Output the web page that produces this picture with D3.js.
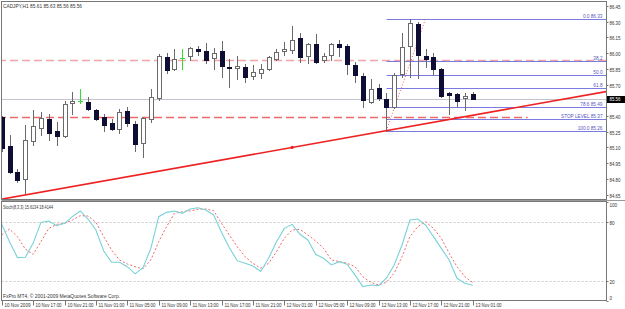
<!DOCTYPE html>
<html><head><meta charset="utf-8">
<script src="https://cdn.jsdelivr.net/npm/d3@7"></script>
<style>
html,body{margin:0;padding:0;background:#fff;overflow:hidden}
svg{display:block}
text{font-family:"Liberation Sans",Arial,sans-serif;}
</style>
</head><body><div id="chart"></div>
<script>
// ---------- DATA ----------
const symbolTitle = "CADJPY,H1 85.61 85.63 85.56 85.56";
const open  = [85.39,85.11,84.87,84.80,85.16,85.29,85.37,85.26,85.21,85.52,85.54,85.53,85.46,85.39,85.33,85.28,85.45,85.32,85.14,85.37,85.57,85.96,85.85,85.95,85.97,86.04,86.02,85.95,86.02,85.87,85.86,85.87,85.78,85.81,85.85,85.94,86.02,86.03,86.14,85.97,86.09,85.93,85.98,86.09,86.07,85.89,85.78,85.53,85.67,85.56,85.49,85.80,86.07,86.28,85.97,85.96,85.85,85.62,85.61,85.57,85.61];
const high  = [85.40,85.22,84.89,85.31,85.46,85.44,85.42,85.34,85.54,85.63,85.66,85.58,85.47,85.42,85.37,85.47,85.49,85.35,85.39,85.66,85.99,86.00,86.04,86.04,86.06,86.07,86.10,86.05,86.12,85.94,85.97,85.90,85.89,85.90,85.97,86.04,86.11,86.26,86.19,86.10,86.18,86.00,86.10,86.13,86.09,85.92,85.81,85.75,85.71,85.62,85.81,86.19,86.33,86.30,86.04,86.00,85.86,85.63,85.62,85.62,85.63];
const low   = [85.07,84.86,84.77,84.66,85.12,85.22,85.17,85.12,85.20,85.42,85.52,85.46,85.36,85.26,85.27,85.24,85.30,85.07,85.01,85.34,85.55,85.81,85.84,85.85,85.93,85.98,85.91,85.85,85.77,85.68,85.75,85.72,85.75,85.76,85.84,85.93,85.98,86.00,85.92,85.91,85.91,85.92,85.93,85.97,85.80,85.72,85.49,85.52,85.55,85.26,85.48,85.77,85.77,85.76,85.87,85.79,85.58,85.42,85.50,85.46,85.56];
const close = [85.09,84.87,84.79,85.17,85.30,85.38,85.24,85.21,85.51,85.54,85.54,85.47,85.37,85.31,85.28,85.44,85.33,85.13,85.38,85.58,85.97,85.84,85.94,85.95,86.05,86.02,85.93,86.00,85.88,85.86,85.88,85.77,85.82,85.85,85.96,86.01,86.04,86.13,85.96,86.09,85.92,85.97,86.09,86.06,85.90,85.79,85.55,85.66,85.57,85.49,85.79,86.06,86.29,85.98,85.94,85.85,85.59,85.60,85.54,85.59,85.56];
const stochMain   = [77.6,60.0,43.8,44.1,58.3,79.6,81.0,76.2,78.6,85.4,91.2,83.0,71.9,50.5,39.0,39.0,34.6,27.3,33.6,53.2,85.4,89.8,91.2,88.8,93.2,94.5,92.2,87.1,69.6,53.9,40.7,38.0,35.3,29.7,43.1,60.0,73.5,77.6,67.5,61.7,47.1,43.1,36.3,39.7,37.0,26.3,14.3,16.0,15.3,22.8,36.3,56.6,82.0,83.0,76.9,65.1,53.2,41.4,22.8,17.7,15.6134];
const stochSignal = [66.8,72.9,65.1,52.6,47.1,60.0,73.5,77.6,78.6,82.0,86.4,86.1,79.6,65.1,51.5,41.4,37.3,34.6,32.3,41.4,60.0,75.2,88.8,90.5,91.2,92.9,93.2,91.5,78.6,66.8,54.9,44.8,38.0,33.0,38.0,49.9,63.4,71.9,72.5,66.8,60.7,53.2,41.4,39.7,38.0,34.6,24.4,18.7,16.0,18.7,28.0,44.8,65.1,75.2,80.3,73.5,63.4,48.2,34.6,24.4,18.4144];
const stochTitle = "Stoch(8,3,3) 15.6134 18.4144";
const copyright = "FxPro MT4, \u00A9 2001-2009 MetaQuotes Software Corp.";
const priceTicks = [86.45,86.30,86.15,86.00,85.85,85.70,85.55,85.40,85.25,85.10,84.95,84.80,84.65];
const stochTicks = [100,80,20,0];
const timeTickBars = [0,4,8,12,16,20,24,28,32,36,40,44,48,52,56,60];
const timeTickLabels = ["10 Nov 2009","10 Nov 17:00","10 Nov 21:00","11 Nov 01:00","11 Nov 05:00","11 Nov 09:00","11 Nov 13:00","11 Nov 17:00","11 Nov 21:00","12 Nov 01:00","12 Nov 05:00","12 Nov 09:00","12 Nov 13:00","12 Nov 17:00","12 Nov 21:00","13 Nov 01:00"];
const bidPrice = 85.56;
const dashedLevels = [ {price:85.93, from:-2, to:80}, {price:85.39, from:-2, to:67} ];
const trendPoints = [ {bar:37, price:85.10}, {bar:49, price:85.26} ];
const fibStart = {bar:49, price:85.26};
const fibEnd   = {bar:54, price:86.33};
const fibLevels = [0, 38.2, 50, 61.8, 78.6, 100];
const fibLabels = ["0.0 86.33","38.2","50.0","61.8","78.6 85.49","100.0 85.26"];
const stopLevel = {price:85.37, label:"STOP LEVEL 85.37"};

// ---------- LAYOUT ----------
const W = 625, H = 309;
const L = 1.5, R = 606.5, mainTop = 1.5, mainBot = 199.5, stTop = 201.5, stBot = 300.5;
const fs = 5.6;
const txtCol = "#333";

const svg = d3.select("#chart").append("svg").attr("width", W).attr("height", H);

const x = d3.scaleLinear().domain([0, 60]).range([1.7, 472.7]);
const y = d3.scaleLinear().domain([84.65, 86.45]).range([194.6, 6]);
const ys = d3.scaleLinear().domain([0, 100]).range([300.7, 202.3]);
const px = v => Math.round(v) + 0.5;

const defs = svg.append("defs");
defs.append("clipPath").attr("id","cm").append("rect").attr("x",L+0.5).attr("y",mainTop+0.5).attr("width",R-L-1).attr("height",mainBot-mainTop-1);
defs.append("clipPath").attr("id","cs").append("rect").attr("x",L+0.5).attr("y",stTop+0.5).attr("width",R-L-1).attr("height",stBot-stTop-1);

const gm = svg.append("g").attr("clip-path","url(#cm)");
const barIdx = d3.range(open.length);
const lastBar = x.invert(R);

// bid line
gm.append("line").attr("x1",L).attr("x2",R).attr("y1",px(y(bidPrice))).attr("y2",px(y(bidPrice)))
  .attr("stroke","#c4c4cc").attr("stroke-width",1);

// dashed red levels
gm.selectAll("line.dl").data(dashedLevels).join("line").attr("class","dl")
  .attr("x1",d=>x(d.from)).attr("x2",d=>Math.min(R,x(d.to)))
  .attr("y1",d=>px(y(d.price))).attr("y2",d=>px(y(d.price)))
  .attr("stroke",(d,i)=> i===0 ? "#f4a4a4" : "#ec6a6a").attr("stroke-width",1.5).attr("stroke-dasharray","8,4");

// fib lines
const fibPrice = lv => fibEnd.price - (fibEnd.price - fibStart.price) * lv / 100;
const fibData = fibLevels.map((lv,i)=>({price: fibPrice(lv), label: fibLabels[i]})).concat([stopLevel]);
gm.selectAll("line.fib").data(fibData).join("line").attr("class","fib")
  .attr("x1",px(x(fibStart.bar))).attr("x2",R)
  .attr("y1",d=>px(y(d.price))).attr("y2",d=>px(y(d.price)))
  .attr("stroke","#7c7ce0").attr("stroke-width",1);
// labels: right-aligned, squeezed to the narrow MT4 font
gm.selectAll("text.fib").data(fibData).join("text").attr("class","fib")
  .attr("y",d=>Math.round(y(d.price))-1.2)
  .attr("font-size",fs).attr("fill","#5656c0").text(d=>d.label)
  .each(function(){
    const w = this.getComputedTextLength()*0.84;
    d3.select(this).attr("x", R-4-w).attr("textLength", w).attr("lengthAdjust","spacingAndGlyphs");
  });
// fib diagonal
gm.append("line").attr("x1",x(fibStart.bar)).attr("y1",y(fibStart.price)).attr("x2",x(fibEnd.bar)).attr("y2",y(fibEnd.price))
  .attr("stroke","#f06060").attr("stroke-width",1).attr("stroke-dasharray","1,2");

// candles
const cg = gm.append("g");
barIdx.forEach(i=>{
  const cx = Math.round(x(i));
  const o=open[i], c=close[i], h=high[i], l=low[i];
  const doji = o===c;
  const bull = c>o;
  const wickCol = doji ? "#33dd33" : "#6a6a6a";
  cg.append("line").attr("x1",cx+0.5).attr("x2",cx+0.5).attr("y1",Math.round(y(h))).attr("y2",Math.round(y(l))+1)
    .attr("stroke",wickCol).attr("stroke-width",1);
  if (doji) {
    cg.append("line").attr("x1",cx-2).attr("x2",cx+3).attr("y1",px(y(o))).attr("y2",px(y(o))).attr("stroke","#33dd33");
  } else {
    const t = Math.round(y(Math.max(o,c))), b = Math.round(y(Math.min(o,c)));
    cg.append("rect").attr("x",cx-1.5).attr("y",t+0.5).attr("width",4).attr("height",Math.max(1,b-t))
      .attr("fill",bull?"#ffffff":"#0e0e34").attr("stroke",bull?"#6a6a6a":"#0e0e34").attr("stroke-width",1);
  }
});

// trend line
const slope = (trendPoints[1].price - trendPoints[0].price)/(trendPoints[1].bar - trendPoints[0].bar);
const tp = b => trendPoints[0].price + slope*(b - trendPoints[0].bar);
gm.append("line").attr("x1",x(-1)).attr("y1",y(tp(-1))).attr("x2",x(lastBar+1)).attr("y2",y(tp(lastBar+1)))
  .attr("stroke","#ee2222").attr("stroke-width",1.6);
gm.append("circle").attr("cx",x(trendPoints[0].bar)).attr("cy",y(trendPoints[0].price)).attr("r",1.6).attr("fill","#ee2222");

// title
svg.append("text").attr("x",3).attr("y",7.5).attr("font-size",fs).attr("fill",txtCol)
  .attr("textLength",79).attr("lengthAdjust","spacingAndGlyphs").text(symbolTitle);

// ---------- STOCH ----------
const gs = svg.append("g").attr("clip-path","url(#cs)");
[80,20].forEach(v=>{
  gs.append("line").attr("x1",L).attr("x2",R).attr("y1",px(ys(v))).attr("y2",px(ys(v)))
    .attr("stroke","#c8c8c8").attr("stroke-dasharray","2,2");
});
gs.append("path").datum(barIdx).attr("fill","none").attr("stroke","#f06a6a").attr("stroke-width",1).attr("stroke-dasharray","2,2")
  .attr("d", d3.line().x(i=>x(i)).y(i=>ys(stochSignal[i])));
gs.append("path").datum(barIdx).attr("fill","none").attr("stroke","#78d2d8").attr("stroke-width",1.1)
  .attr("d", d3.line().x(i=>x(i)).y(i=>ys(stochMain[i])));
svg.append("text").attr("x",3).attr("y",208.5).attr("font-size",fs).attr("fill",txtCol)
  .attr("textLength",50).attr("lengthAdjust","spacingAndGlyphs").text(stochTitle);
svg.append("text").attr("x",3).attr("y",298).attr("font-size",fs).attr("fill",txtCol)
  .attr("textLength",117).attr("lengthAdjust","spacingAndGlyphs").text(copyright);

// ---------- FRAMES & AXES ----------
const frame = "#777";
svg.append("rect").attr("x",L).attr("y",mainTop).attr("width",R-L).attr("height",mainBot-mainTop).attr("fill","none").attr("stroke",frame);
svg.append("rect").attr("x",L).attr("y",stTop).attr("width",R-L).attr("height",stBot-stTop).attr("fill","none").attr("stroke",frame);
svg.append("line").attr("x1",L).attr("x2",W).attr("y1",200.5).attr("y2",200.5).attr("stroke","#999");

// price axis
const pa = svg.append("g");
priceTicks.forEach(p=>{
  const yy = px(y(p));
  pa.append("line").attr("x1",R).attr("x2",R+2).attr("y1",yy).attr("y2",yy).attr("stroke",frame);
  pa.append("text").attr("x",R+3).attr("y",yy+2).attr("font-size",fs).attr("fill",txtCol)
    .attr("textLength",11).attr("lengthAdjust","spacingAndGlyphs").text(d3.format(".2f")(p));
});
// bid box
const by = Math.round(y(bidPrice));
pa.append("rect").attr("x",R+0.5).attr("y",by-3).attr("width",W-R).attr("height",7).attr("fill","#000");
pa.append("text").attr("x",R+3).attr("y",by+2.4).attr("font-size",fs).attr("fill","#fff")
  .attr("textLength",11).attr("lengthAdjust","spacingAndGlyphs").text(d3.format(".2f")(bidPrice));

// stoch axis
stochTicks.forEach(v=>{
  const yy = px(ys(v));
  const ty = v===100 ? yy+4.5 : (v===0 ? yy-1.5 : yy+2);
  svg.append("line").attr("x1",R).attr("x2",R+2).attr("y1",yy).attr("y2",yy).attr("stroke",frame);
  const t = svg.append("text").attr("x",R+3).attr("y",ty).attr("font-size",fs).attr("fill",txtCol).text(v);
  const w = t.node().getComputedTextLength()*0.82;
  t.attr("textLength",w).attr("lengthAdjust","spacingAndGlyphs");
});

// time axis
timeTickBars.forEach((b,k)=>{
  const xx = px(x(b));
  svg.append("line").attr("x1",xx).attr("x2",xx).attr("y1",stBot).attr("y2",stBot+5).attr("stroke",frame);
  svg.append("text").attr("x",xx+2).attr("y",307).attr("font-size",fs).attr("fill",txtCol)
    .attr("textLength",26).attr("lengthAdjust","spacingAndGlyphs").text(timeTickLabels[k]);
});
</script>
</body></html>
